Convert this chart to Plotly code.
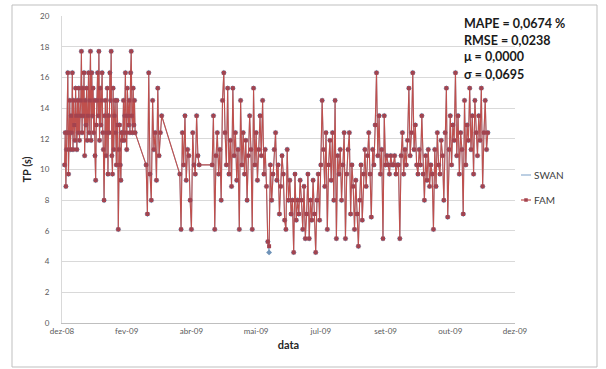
import pandas as pd
import plotly.graph_objects as go

# ---------------- data ----------------
axis_start = "2008-12-26"           # first tick of the date axis
tick_step_days = 50
tick_labels = ["dez-08", "fev-09", "abr-09", "mai-09", "jul-09", "set-09", "out-09", "dez-09"]

# data segments: start day (offset from axis_start), sampling step (days) and TP values (s)
segment_start_days = [2, 65, 91, 116]
segment_step_days = [0.5, 1, 1, 1]
fam_seg1 = [10.3, 12.4, 8.9, 11.3, 12.4, 16.3, 9.7, 12.4, 14.5, 11.3,
            13.5, 12.4, 16.3, 11.3, 14.5, 12.9, 11.9, 15.3, 13.5, 11.3,
            14.5, 12.4, 15.3, 11.9, 13.5, 14.5, 17.7, 12.4, 15.3, 13.5,
            16.3, 10.9, 14.5, 12.9, 15.3, 11.9, 13.5, 16.3, 12.4, 14.5,
            17.7, 11.9, 16.3, 13.5, 15.3, 12.4, 14.5, 10.9, 9.3, 12.9,
            14.5, 16.3, 13.5, 17.7, 11.9, 15.3, 12.9, 14.5, 16.3, 12.4,
            11.3, 8.0, 13.5, 14.5, 10.9, 12.4, 15.3, 9.7, 13.5, 12.4,
            16.3, 14.5, 17.7, 10.9, 9.7, 15.3, 11.3, 13.5, 14.5, 12.4,
            10.3, 14.5, 12.9, 6.1, 11.3, 12.9, 10.3, 9.3, 12.4, 11.9,
            12.4, 14.5, 11.9, 13.5, 16.3, 12.4, 11.3, 15.3, 13.5, 12.9,
            14.5, 12.4, 16.3, 17.7, 13.5, 12.4, 15.3, 12.9, 14.5, 12.4]
fam_seg2 = [10.3, 7.1, 16.3, 9.7, 8.0, 14.5, 11.3, 12.4, 9.3, 15.3, 10.9, 12.4, 13.5]
fam_seg3 = [9.7, 6.1, 12.4, 10.3, 13.5, 9.3, 11.3, 10.9, 8.0, 6.1, 12.4, 10.3, 9.7, 13.5, 10.9, 10.3]
fam_seg4 = [10.3, 13.5, 6.1, 10.9, 12.4, 9.7, 11.3, 8.0, 14.5, 16.3,
            12.4, 10.3, 15.3, 9.7, 11.9, 8.9, 15.3, 10.9, 12.4, 9.3,
            11.3, 6.1, 14.5, 10.3, 12.4, 9.7, 11.9, 8.0, 10.9, 13.5,
            11.3, 6.1, 15.3, 10.3, 12.4, 9.3, 11.3, 13.5, 10.9, 14.5,
            9.7, 11.3, 8.9, 5.3, 5.0, 10.3, 8.0, 9.7, 11.3, 12.4,
            9.3, 10.3, 7.1, 8.9, 10.9, 9.7, 6.7, 6.1, 11.3, 8.0,
            9.3, 7.1, 8.0, 4.6, 9.7, 6.7, 8.0, 7.1, 9.3, 8.0,
            6.1, 8.9, 5.5, 7.1, 9.7, 5.5, 8.0, 6.7, 9.3, 7.1,
            4.6, 8.0, 9.7, 6.7, 10.3, 14.5, 11.3, 8.9, 12.4, 6.1,
            10.3, 11.9, 9.3, 12.4, 8.0, 14.5, 5.5, 10.9, 9.7, 11.3,
            8.0, 10.3, 12.4, 5.5, 9.7, 11.3, 12.4, 7.1, 10.3, 8.9,
            6.1, 9.3, 7.1, 5.0, 8.0, 10.3, 6.7, 9.7, 11.3, 8.9,
            10.9, 12.4, 9.7, 6.9, 11.3, 10.3, 12.9, 16.3, 10.9, 13.5,
            9.7, 11.3, 5.5, 13.5, 10.3, 10.9, 10.3, 9.7, 10.9, 10.3,
            10.3, 10.9, 9.7, 10.3, 10.3, 5.5, 10.9, 12.4, 9.7, 11.3,
            10.3, 11.9, 15.3, 10.9, 12.4, 16.3, 11.3, 12.9, 10.3, 9.7,
            11.3, 10.3, 13.5, 9.7, 8.0, 10.9, 9.3, 11.3, 8.9, 10.3,
            9.7, 6.1, 11.3, 8.9, 12.4, 10.3, 9.7, 11.9, 10.9, 8.0,
            12.4, 15.3, 6.9, 11.3, 13.5, 10.3, 12.9, 11.9, 16.3, 10.9,
            13.5, 9.7, 12.4, 11.3, 7.1, 14.5, 10.3, 12.9, 11.9, 15.3,
            11.3, 13.5, 9.7, 14.5, 12.4, 10.9, 13.5, 11.9, 15.3, 8.9,
            12.4, 14.5, 11.3, 12.4]
fam_segments = [fam_seg1, fam_seg2, fam_seg3, fam_seg4]
# SWAN values differ from FAM only at these days (elsewhere identical)
swan_diff_days = [160]
swan_diff_vals = [4.6]

stats_lines = ["MAPE = 0,0674 %", "RMSE = 0,0238", "μ = 0,0000", "σ = 0,0695"]

# ---------------- build series ----------------
t0 = pd.Timestamp(axis_start)
days, fam = [], []
for start, step, seg in zip(segment_start_days, segment_step_days, fam_segments):
    for i, v in enumerate(seg):
        days.append(start + i * step)
        fam.append(v)
swan = list(fam)
for d, v in zip(swan_diff_days, swan_diff_vals):
    if d in days:
        swan[days.index(d)] = v
x_dates = [t0 + pd.Timedelta(days=d) for d in days]
tickvals = [t0 + pd.Timedelta(days=tick_step_days * k) for k in range(len(tick_labels))]

SWAN_C = "#8FAFD0"
FAM_C = "#C0504D"
FAM_M = "#A3434F"

fig = go.Figure()
fig.add_trace(go.Scatter(x=x_dates, y=swan, mode="lines+markers", name="SWAN",
                         line=dict(color=SWAN_C, width=1),
                         marker=dict(symbol="diamond", size=4.5, color="#6F93B8")))
fig.add_trace(go.Scatter(x=x_dates, y=fam, mode="lines+markers", name="FAM",
                         line=dict(color=FAM_C, width=1.1),
                         marker=dict(symbol="square", size=4, color=FAM_M)))

# plot-area pixel geometry
L, R, T, B = 62, 515, 16, 323
W, H = 606, 369
def px(xp): return (xp - L) / (R - L)
def py(yp): return (B - yp) / (B - T)

shapes = [
    # chart border
    dict(type="rect", xref="paper", yref="paper", x0=px(12), x1=px(597), y0=py(367), y1=py(5),
         line=dict(color="#BFBFBF", width=1), layer="below"),
    # legend keys
    dict(type="line", xref="paper", yref="paper", x0=px(521), x1=px(531), y0=py(175), y1=py(175),
         line=dict(color=SWAN_C, width=1.2)),
    dict(type="line", xref="paper", yref="paper", x0=px(521), x1=px(531), y0=py(200), y1=py(200),
         line=dict(color=FAM_C, width=1.2)),
    dict(type="rect", xref="paper", yref="paper", x0=px(524.5), x1=px(527.5), y0=py(201.5), y1=py(198.5),
         line=dict(color=FAM_M, width=0.5), fillcolor=FAM_M),
]

annotations = []
for i, s in enumerate(stats_lines):
    annotations.append(dict(xref="paper", yref="paper", x=px(462), y=py(23 + i * 17),
                            xanchor="left", yanchor="middle", showarrow=False, text="<b>%s</b>" % s,
                            font=dict(family="Lato, Open Sans, sans-serif", size=12.5, color="#1a1a1a")))
for name, yy in [("SWAN", 175), ("FAM", 200)]:
    annotations.append(dict(xref="paper", yref="paper", x=px(532), y=py(yy), xanchor="left", yanchor="middle",
                            showarrow=False, text=name,
                            font=dict(family="Lato, Open Sans, sans-serif", size=10, color="#404040")))

fig.update_layout(
    width=W, height=H,
    margin=dict(l=L, r=W - R, t=T, b=H - B),
    paper_bgcolor="white", plot_bgcolor="white",
    showlegend=False,
    font=dict(family="Lato, Open Sans, sans-serif", color="#595959"),
    shapes=shapes, annotations=annotations,
    xaxis=dict(type="date", range=[tickvals[0], tickvals[-1]], tickvals=tickvals, ticktext=tick_labels,
               showgrid=False, zeroline=False, showline=True, linecolor="#BFBFBF", linewidth=1,
               ticks="", tickfont=dict(size=8, color="#595959"),
               title=dict(text="<b>data</b>", font=dict(size=11, color="#262626"), standoff=6)),
    yaxis=dict(range=[0, 20], dtick=2, showgrid=True, gridcolor="#D9D9D9", gridwidth=1,
               zeroline=False, showline=True, linecolor="#D9D9D9", linewidth=1,
               ticks="", tickfont=dict(size=8, color="#595959"), ticklabelstandoff=10,
               title=dict(text="<b>TP (s)</b>", font=dict(size=11, color="#262626"), standoff=6)),
)

fig.write_html("out.html")
